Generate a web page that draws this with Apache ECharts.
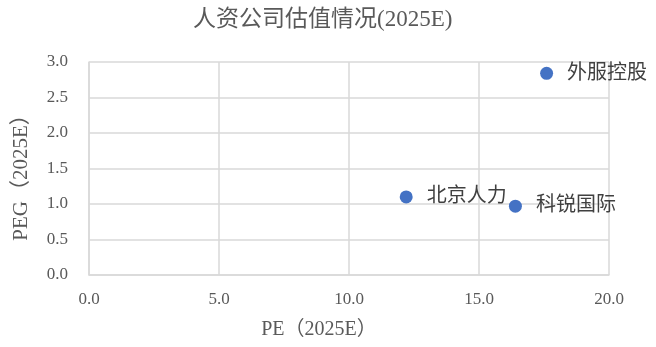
<!DOCTYPE html>
<html><head><meta charset="utf-8">
<script src="https://cdn.jsdelivr.net/npm/echarts@6/dist/echarts.min.js"></script>
<style>html,body{margin:0;padding:0;background:#fff}#c{width:656px;height:347px}</style>
</head><body><div id="c"></div>
<script>
const names = ['外服控股', '北京人力', '科锐国际'];
const peValues = [17.6, 12.2, 16.4];
const pegValues = [2.84, 1.10, 0.97];
const fontFam = "'Liberation Serif', 'Noto Sans CJK SC', serif";
const chart = echarts.init(document.getElementById('c'));
chart.setOption({
  animation: false,
  title: { text: '人资公司估值情况(2025E)', left: 188, top: 3,
    textStyle: { fontFamily: fontFam, fontSize: 23, fontWeight: 'normal', color: '#595959' } },
  grid: { left: 89, right: 47, top: 62, bottom: 72 },
  xAxis: { type: 'value', min: 0, max: 20, interval: 5,
    name: 'PE（2025E）', nameLocation: 'middle', nameGap: 45,
    nameTextStyle: { fontFamily: fontFam, fontSize: 20, color: '#595959', padding: [0, 60, 0, 0] },
    axisLine: { show: true, lineStyle: { color: '#d9d9d9', width: 1.5 } },
    axisTick: { show: false },
    axisLabel: { formatter: v => v.toFixed(1), fontFamily: fontFam, fontSize: 17, color: '#595959', margin: 16 },
    splitLine: { lineStyle: { color: '#d9d9d9', width: 1.5 } } },
  yAxis: { type: 'value', min: 0, max: 3, interval: 0.5,
    name: 'PEG（2025E）', nameLocation: 'middle', nameGap: 57,
    nameTextStyle: { fontFamily: fontFam, fontSize: 21, color: '#595959', padding: [0, 8, 0, 0] },
    axisLine: { show: true, lineStyle: { color: '#d9d9d9', width: 1.5 } },
    axisTick: { show: false },
    axisLabel: { formatter: v => v.toFixed(1), fontFamily: fontFam, fontSize: 17, color: '#595959', margin: 21 },
    splitLine: { lineStyle: { color: '#d9d9d9', width: 1.5 } } },
  series: [{
    type: 'scatter', symbolSize: 13,
    itemStyle: { color: '#4472C4', opacity: 1 },
    data: names.map((n, i) => ({ value: [peValues[i], pegValues[i]], name: n })),
    label: { show: true, position: 'right', distance: 14, formatter: p => p.name,
      fontFamily: fontFam, fontSize: 20, color: '#404040' }
  }]
});
</script></body></html>
